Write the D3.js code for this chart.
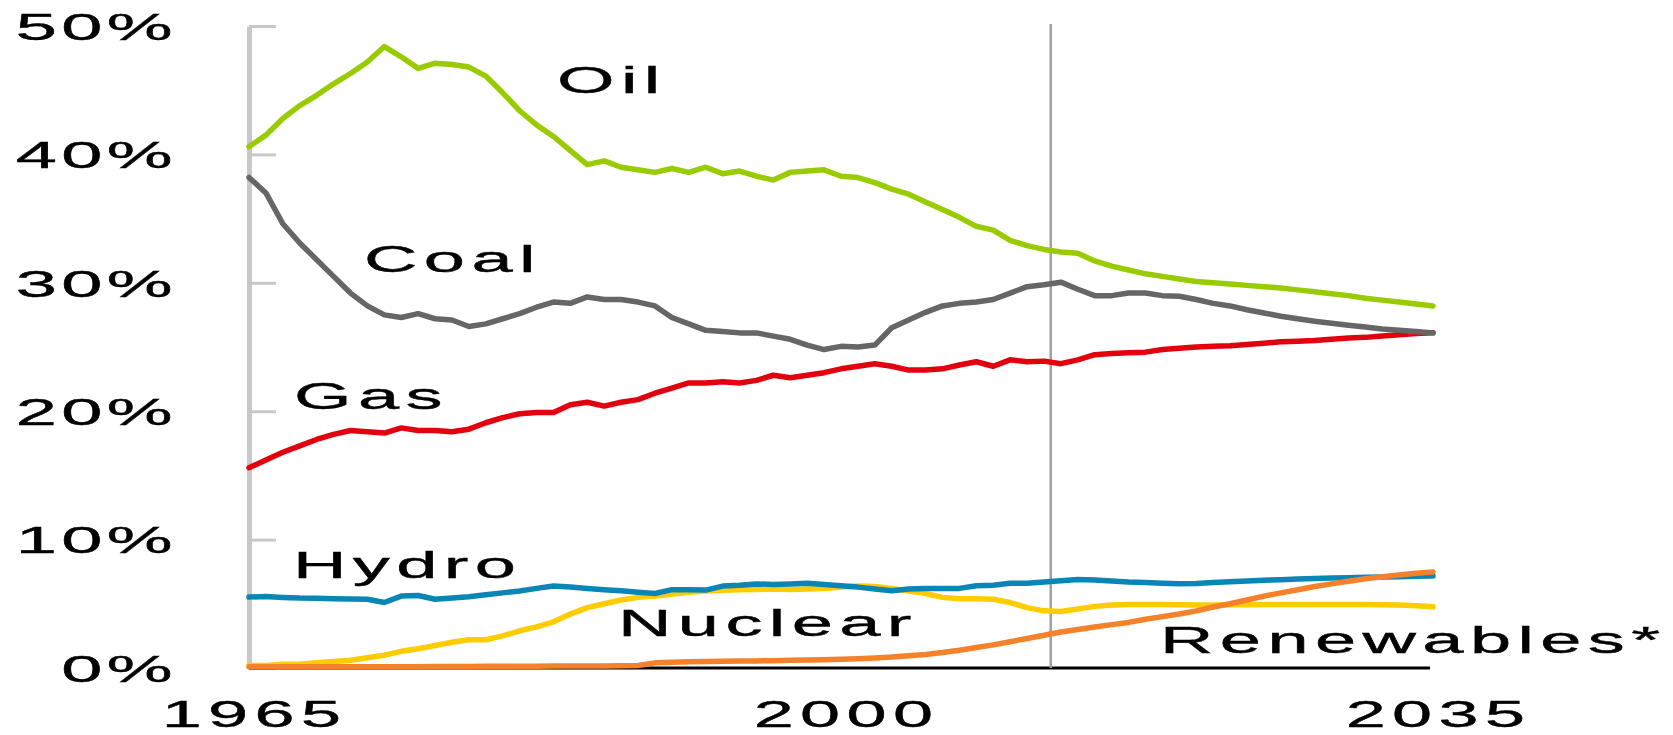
<!DOCTYPE html>
<html>
<head>
<meta charset="utf-8">
<script src="https://cdn.jsdelivr.net/npm/d3@7"></script>
<style>
  html, body { margin: 0; padding: 0; background: #ffffff; }
  svg { display: block; }
  text { font-family: "Liberation Sans", Arial, sans-serif; fill: #000; }
</style>
</head>
<body>
<svg id="chart" width="1673" height="735"></svg>
<script>
// ---------------- data ----------------
const years = d3.range(1965, 2036);

const oil = [
  40.6, 41.5, 42.8, 43.8, 44.6, 45.5, 46.3, 47.2, 48.4, 47.6,
  46.7, 47.1, 47.0, 46.8, 46.1, 44.8, 43.4, 42.3, 41.4, 40.3,
  39.2, 39.5, 39.0, 38.8, 38.6, 38.9, 38.6, 39.0, 38.5, 38.7,
  38.3, 38.0, 38.6, 38.7, 38.8, 38.3, 38.2, 37.8, 37.3, 36.9,
  36.3, 35.7, 35.1, 34.4, 34.1, 33.3, 32.9, 32.6, 32.4, 32.3,
  31.7, 31.3, 31.0, 30.7, 30.5, 30.3, 30.1, 30.0, 29.9, 29.8,
  29.7, 29.6, 29.45, 29.3, 29.15, 29.0, 28.8, 28.65, 28.5, 28.35,
  28.2
];

const coal = [
  38.2, 37.0, 34.6, 33.1, 31.8, 30.5, 29.2, 28.2, 27.5, 27.3,
  27.6, 27.2, 27.1, 26.6, 26.8, 27.2, 27.6, 28.1, 28.5, 28.4,
  28.9, 28.7, 28.7, 28.5, 28.2, 27.3, 26.8, 26.3, 26.2, 26.1,
  26.1, 25.85, 25.6, 25.15, 24.8, 25.05, 25.0, 25.15, 26.5, 27.1,
  27.7, 28.2, 28.4, 28.5, 28.7, 29.2, 29.7, 29.85, 30.05, 29.5,
  29.0, 29.0, 29.2, 29.2, 29.0, 28.95, 28.7, 28.4, 28.2, 27.9,
  27.65, 27.4, 27.2, 27.0, 26.85, 26.7, 26.55, 26.4, 26.3, 26.2,
  26.1
];

const gas = [
  15.6, 16.2, 16.8, 17.3, 17.8, 18.2, 18.5, 18.4, 18.3, 18.7,
  18.5, 18.5, 18.4, 18.6, 19.1, 19.5, 19.8, 19.9, 19.9, 20.5,
  20.7, 20.4, 20.7, 20.9, 21.4, 21.8, 22.2, 22.2, 22.3, 22.2,
  22.4, 22.8, 22.6, 22.8, 23.0, 23.3, 23.5, 23.7, 23.5, 23.2,
  23.2, 23.3, 23.6, 23.85, 23.5, 24.0, 23.85, 23.9, 23.7, 24.0,
  24.4, 24.5, 24.55, 24.6, 24.8, 24.9, 25.0, 25.05, 25.1, 25.2,
  25.3, 25.4, 25.45, 25.5, 25.6, 25.7, 25.75, 25.85, 25.95, 26.05,
  26.1
];

const hydro = [
  5.53, 5.56, 5.5, 5.45, 5.43, 5.4, 5.38, 5.35, 5.1, 5.6,
  5.65, 5.35, 5.45, 5.55, 5.7, 5.85, 6.0, 6.2, 6.38, 6.3,
  6.2, 6.1, 6.02, 5.9, 5.8, 6.1, 6.1, 6.07, 6.38, 6.45,
  6.55, 6.5, 6.55, 6.6, 6.5, 6.4, 6.3, 6.15, 6.02, 6.15,
  6.2, 6.2, 6.2, 6.4, 6.45, 6.6, 6.6, 6.7, 6.8, 6.9,
  6.85, 6.78, 6.7, 6.65, 6.6, 6.56, 6.58, 6.65, 6.72, 6.78,
  6.83, 6.88, 6.93, 6.97, 7.0, 7.03, 7.06, 7.09, 7.11, 7.14,
  7.16
];

const nuclear = [
  0.2, 0.2, 0.3, 0.3, 0.4, 0.5, 0.6, 0.8, 1.0, 1.3,
  1.5, 1.75, 2.0, 2.2, 2.2, 2.5, 2.9, 3.2, 3.6, 4.2,
  4.7, 5.0, 5.3, 5.5, 5.6, 5.75, 5.9, 6.0, 6.05, 6.1,
  6.12, 6.15, 6.12, 6.15, 6.2, 6.3, 6.38, 6.35, 6.2, 6.0,
  5.8, 5.5, 5.4, 5.4, 5.35, 5.1, 4.7, 4.45, 4.4, 4.6,
  4.8, 4.9, 4.95, 4.95, 4.95, 4.92, 4.9, 4.9, 4.92, 4.93,
  4.95, 4.95, 4.95, 4.95, 4.95, 4.95, 4.95, 4.93, 4.9, 4.84,
  4.77
];

const renewables = [
  0.1, 0.1, 0.1, 0.1, 0.1, 0.1, 0.1, 0.1, 0.1, 0.1,
  0.1, 0.12, 0.12, 0.12, 0.13, 0.13, 0.14, 0.14, 0.15, 0.15,
  0.15, 0.16, 0.17, 0.2, 0.4, 0.45, 0.48, 0.5, 0.52, 0.54,
  0.55, 0.57, 0.6, 0.62, 0.65, 0.68, 0.72, 0.78, 0.85, 0.95,
  1.05, 1.2, 1.38, 1.6, 1.8, 2.05, 2.3, 2.55, 2.8, 3.0,
  3.2, 3.38, 3.55, 3.8, 4.0, 4.2, 4.45, 4.75, 5.0, 5.3,
  5.6, 5.85, 6.1, 6.35, 6.55, 6.75, 6.95, 7.1, 7.25, 7.38,
  7.48
];

const seriesNames = ["Nuclear", "Hydro", "Renewables*", "Gas", "Coal", "Oil"];
const seriesValues = [nuclear, hydro, renewables, gas, coal, oil];
const yTickValues = [0, 10, 20, 30, 40, 50];
const xTickValues = [1965, 2000, 2035];
const dividerYear = 2012.4;

// ---------------- styles / layout ----------------
const colors = {
  "Oil": "#99cc00",
  "Coal": "#666666",
  "Gas": "#e2000f",
  "Hydro": "#0a86b6",
  "Nuclear": "#ffcc00",
  "Renewables*": "#f5822a"
};
const labelLayout = {
  "Oil":         { x: 557,  y: 93 },
  "Coal":        { x: 364,  y: 272 },
  "Gas":         { x: 294,  y: 409 },
  "Hydro":       { x: 293,  y: 578 },
  "Nuclear":     { x: 618,  y: 636 },
  "Renewables*": { x: 1160, y: 653 }
};
const FONT = 37, SX = 2, LS = 3.2;
const textStroke = 0.4;

const svg = d3.select("#chart");
const x = d3.scaleLinear().domain([1965, 2035]).range([249, 1433]);
const y = d3.scaleLinear().domain([0, 50]).range([668, 26]);

function styleText(sel, size, ls) {
  sel.style("font-size", size + "px")
    .style("letter-spacing", ls + "px")
    .style("font-family", '"Liberation Sans", Arial, sans-serif')
    .attr("fill", "#000")
    .attr("stroke", "#000")
    .attr("stroke-width", textStroke);
}

// y axis (grey line, ticks to the right, labels on the left)
const yAxis = d3.axisRight(y).tickValues(yTickValues).tickSize(27).tickSizeOuter(0)
  .tickFormat(d => d + "%");
const gy = svg.append("g").attr("transform", `translate(${x(1965)},0)`).call(yAxis);
gy.select(".domain").attr("stroke", "#c8c8c8").attr("stroke-width", 5);
gy.selectAll(".tick line").attr("stroke", "#c8c8c8").attr("stroke-width", 3);
gy.selectAll(".tick text")
  .attr("x", -72 / SX)
  .attr("dy", "0.36em")
  .attr("text-anchor", "end")
  .attr("transform", `scale(${SX},1)`)
  .call(styleText, FONT, 2.2);

// x axis (black baseline, labels only)
const xAxis = d3.axisBottom(x).tickValues(xTickValues).tickSize(0).tickSizeOuter(0)
  .tickFormat(d3.format("d"));
const gx = svg.append("g").attr("transform", `translate(0,${y(0)})`).call(xAxis);
gx.select(".domain").attr("stroke", "#000").attr("stroke-width", 3)
  .attr("d", `M${x(1965)},0H${x(2035) - 3}`);
gx.selectAll(".tick text")
  .attr("y", 59)
  .attr("dy", 0)
  .attr("x", 2.5)
  .attr("text-anchor", "middle")
  .attr("transform", `scale(${SX},1)`)
  .call(styleText, 36, 3.2);

// divider line between history and projection
svg.append("line")
  .attr("x1", x(dividerYear)).attr("x2", x(dividerYear))
  .attr("y1", 24).attr("y2", y(0))
  .attr("stroke", "#a0a0a0").attr("stroke-width", 2.5);

// series lines
const line = d3.line().x((d, i) => x(years[i])).y(d => y(d));
seriesNames.forEach((name, k) => {
  svg.append("path")
    .datum(seriesValues[k])
    .attr("d", line)
    .attr("fill", "none")
    .attr("stroke", colors[name])
    .attr("stroke-width", 5.5)
    .attr("stroke-linejoin", "round")
    .attr("stroke-linecap", "round");
});

// series labels
seriesNames.forEach(name => {
  const p = labelLayout[name];
  svg.append("text")
    .attr("transform", `translate(${p.x},${p.y}) scale(${SX},1)`)
    .call(styleText, FONT, LS)
    .text(name);
});
</script>
</body>
</html>
